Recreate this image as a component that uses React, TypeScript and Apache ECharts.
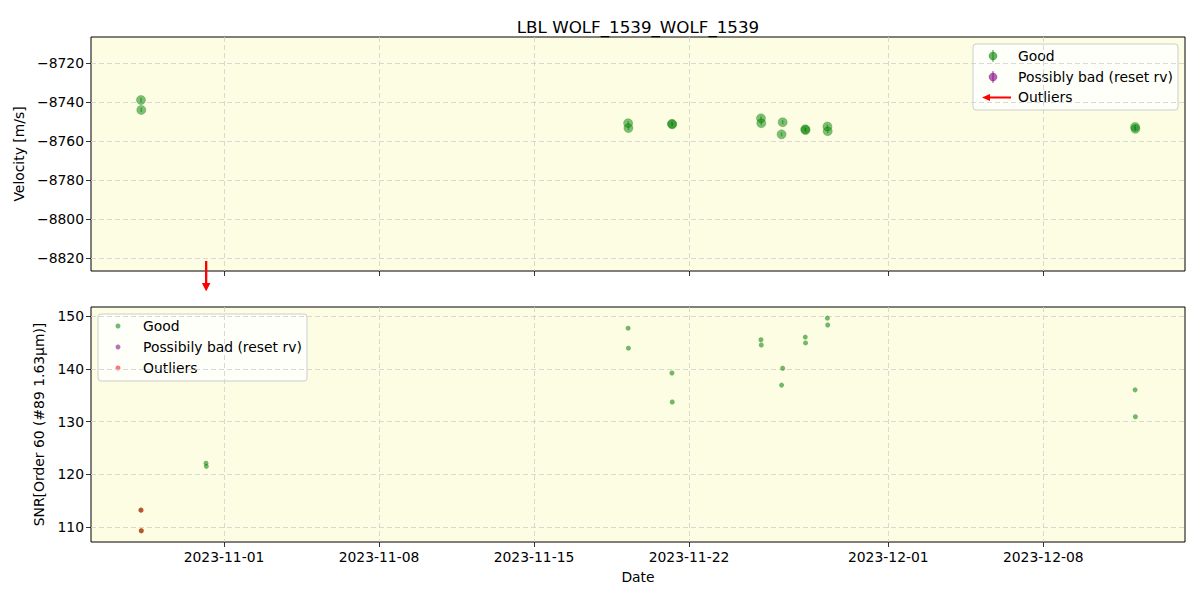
import React, { useEffect, useRef } from 'react';
import * as echarts from 'echarts';

// ---- data ----
const rvDates = [
  '2023-10-28T06:00', '2023-10-28T06:20',
  '2023-11-19T06:00', '2023-11-19T06:20',
  '2023-11-21T05:30', '2023-11-21T05:50',
  '2023-11-25T06:00', '2023-11-25T06:20',
  '2023-11-26T05:30', '2023-11-26T04:20',
  '2023-11-27T06:00', '2023-11-27T06:20',
  '2023-11-28T06:00', '2023-11-28T06:20',
  '2023-12-12T03:30', '2023-12-12T03:50',
];
const rvValues = [
  -8739.0, -8744.1,
  -8750.9, -8753.4,
  -8751.2, -8751.5,
  -8748.4, -8750.9,
  -8750.4, -8756.6,
  -8754.0, -8754.4,
  -8752.6, -8755.0,
  -8752.8, -8753.8,
];
const rvErrors = [
  1.1, 1.1, 1.0, 1.0, 0.9, 0.9, 1.0, 1.0,
  1.0, 1.0, 0.9, 0.9, 1.0, 1.0, 1.0, 1.0,
];
const rvOutlierDates = ['2023-10-31T04:30', '2023-10-31T04:50'];

const snrDates = [
  '2023-10-28T06:00', '2023-10-28T06:20',
  '2023-10-31T04:30', '2023-10-31T04:50',
  '2023-11-19T06:00', '2023-11-19T06:20',
  '2023-11-21T05:30', '2023-11-21T05:50',
  '2023-11-25T06:00', '2023-11-25T06:20',
  '2023-11-26T05:30', '2023-11-26T04:20',
  '2023-11-27T06:00', '2023-11-27T06:20',
  '2023-11-28T06:00', '2023-11-28T06:20',
  '2023-12-12T03:30', '2023-12-12T03:50',
];
const snrValues = [
  113.2, 109.3,
  122.1, 121.5,
  147.7, 143.9,
  139.2, 133.7,
  145.5, 144.5,
  140.1, 136.9,
  146.0, 144.9,
  149.6, 148.3,
  136.0, 130.9,
];
const snrOutlierDates = ['2023-10-28T06:00', '2023-10-28T06:20'];
const snrOutlierValues = [113.2, 109.3];

const xTickLabels = ['2023-11-01', '2023-11-08', '2023-11-15', '2023-11-22', '2023-12-01', '2023-12-08'];
const rvTicks = [-8820, -8800, -8780, -8760, -8740, -8720];
const snrTicks = [110, 120, 130, 140, 150];

const X_MIN = '2023-10-25T23:50';
const X_MAX = '2023-12-14T09:36';
const RV_MIN = -8826.7;
const RV_MAX = -8706.7;
const SNR_MIN = 107.16;
const SNR_MAX = 151.71;

const ts = (s: string) => Date.parse(s + ':00Z');

const FONT = 'DejaVu Sans';
const GREEN = '#008000';
const fmtDate = (v: number) => new Date(v).toISOString().slice(0, 10);
const fmtNum = (v: number) => (v < 0 ? '\u2212' + Math.abs(v) : String(v));

export default function App() {
  const ref = useRef<HTMLDivElement>(null);
  useEffect(() => {
    if (!ref.current) return;
    const chart = echarts.init(ref.current, undefined, { renderer: 'svg' });
    const xTicks = xTickLabels.map((d) => ts(d + 'T00:00'));
    const gridLine = { show: true, lineStyle: { color: '#cfcfcf', type: [5, 3] as any, width: 0.8 } };
    const xAxisBase = (gridIndex: number, showLabels: boolean) => ({
      type: 'value' as const,
      gridIndex,
      min: ts(X_MIN),
      max: ts(X_MAX),
      axisLine: { show: false },
      axisTick: { show: true, inside: false, length: 5, lineStyle: { color: '#000', width: 0.8 }, customValues: xTicks },
      axisLabel: {
        show: showLabels,
        customValues: xTicks,
        formatter: fmtDate,
        color: '#000',
        fontFamily: FONT,
        fontSize: 13.9,
        margin: 8,
      },
      splitLine: gridLine,
    });
    const yAxisBase = (gridIndex: number, min: number, max: number, ticks: number[], name: string, gap: number) => ({
      type: 'value' as const,
      gridIndex,
      min,
      max,
      name,
      nameLocation: 'middle' as const,
      nameGap: gap,
      nameTextStyle: { color: '#000', fontFamily: FONT, fontSize: 13.9 },
      axisLine: { show: false },
      axisTick: { show: true, inside: false, length: 5, lineStyle: { color: '#000', width: 0.8 }, customValues: ticks },
      axisLabel: { customValues: ticks, formatter: fmtNum, color: '#000', fontFamily: FONT, fontSize: 13.9, margin: 7 },
      splitLine: gridLine,
    });

    const rvData = rvDates.map((d, i) => [ts(d), rvValues[i], rvErrors[i]]);
    const snrData = snrDates.map((d, i) => [ts(d), snrValues[i]]);
    const snrOut = snrOutlierDates.map((d, i) => [ts(d), snrOutlierValues[i]]);
    const rvOut = rvOutlierDates.map((d) => [ts(d)]);

    const option: any = {
      animation: false,
      title: {
        text: 'LBL WOLF_1539_WOLF_1539',
        left: 633,
        top: 13,
        textAlign: 'center',
        textStyle: { fontFamily: FONT, fontSize: 16.7, fontWeight: 'normal', color: '#000' },
      },
      grid: [
        { left: 91, right: 15, top: 37, height: 234, show: true, backgroundColor: '#fdfde3', borderColor: '#000', borderWidth: 1 },
        { left: 91, right: 15, top: 307, height: 235, show: true, backgroundColor: '#fdfde3', borderColor: '#000', borderWidth: 1 },
      ],
      xAxis: [
        xAxisBase(0, false),
        {
          ...xAxisBase(1, true),
          name: 'Date',
          nameLocation: 'middle',
          nameGap: 28,
          nameTextStyle: { color: '#000', fontFamily: FONT, fontSize: 13.9 },
        },
      ],
      yAxis: [
        yAxisBase(0, RV_MIN, RV_MAX, rvTicks, 'Velocity [m/s]', 62),
        yAxisBase(1, SNR_MIN, SNR_MAX, snrTicks, 'SNR[Order 60 (#89 1.63μm)]', 45),
      ],
      series: [
        {
          name: 'Good errors',
          type: 'custom',
          xAxisIndex: 0,
          yAxisIndex: 0,
          data: rvData,
          renderItem: (params: any, api: any) => {
            const t = api.value(0), v = api.value(1), e = api.value(2);
            const a = api.coord([t, v - e]);
            const b = api.coord([t, v + e]);
            return {
              type: 'line',
              shape: { x1: a[0], y1: a[1], x2: b[0], y2: b[1] },
              style: { stroke: GREEN, lineWidth: 1.5, opacity: 0.5 },
            };
          },
        },
        {
          name: 'Good',
          type: 'scatter',
          xAxisIndex: 0,
          yAxisIndex: 0,
          data: rvData.map((d) => [d[0], d[1]]),
          symbol: 'circle',
          symbolSize: 9,
          itemStyle: { color: 'rgba(0,128,0,0.62)', borderColor: 'rgba(0,128,0,0.35)', borderWidth: 1 },
        },
        {
          name: 'Possibly bad (reset rv)',
          type: 'scatter',
          xAxisIndex: 0,
          yAxisIndex: 0,
          data: [],
          itemStyle: { color: 'purple' },
        },
        {
          name: 'Outliers',
          type: 'custom',
          xAxisIndex: 0,
          yAxisIndex: 0,
          clip: false,
          data: rvOut,
          renderItem: (params: any, api: any) => {
            const p = api.coord([api.value(0), RV_MIN]);
            const x = p[0], y = p[1];
            return {
              type: 'group',
              children: [
                { type: 'line', shape: { x1: x, y1: y - 10, x2: x, y2: y + 14 }, style: { stroke: 'red', lineWidth: 2 } },
                { type: 'polygon', shape: { points: [[x - 4, y + 12], [x + 4, y + 12], [x, y + 20]] }, style: { fill: 'red' } },
              ],
            };
          },
        },
        {
          name: 'Good',
          type: 'scatter',
          xAxisIndex: 1,
          yAxisIndex: 1,
          data: snrData,
          symbol: 'circle',
          symbolSize: 5,
          itemStyle: { color: GREEN, opacity: 0.55 },
        },
        {
          name: 'Possibily bad (reset rv)',
          type: 'scatter',
          xAxisIndex: 1,
          yAxisIndex: 1,
          data: [],
          itemStyle: { color: 'purple', opacity: 0.5 },
        },
        {
          name: 'Outliers',
          type: 'scatter',
          xAxisIndex: 1,
          yAxisIndex: 1,
          data: snrOut,
          symbol: 'circle',
          symbolSize: 5,
          itemStyle: { color: 'red', opacity: 0.55 },
        },
      ],
      graphic: [
        // top legend
        {
          type: 'group',
          children: [
            { type: 'rect', shape: { x: 973, y: 44, width: 205, height: 66, r: 3 }, style: { fill: 'rgba(255,255,255,0.8)', stroke: '#cccccc', lineWidth: 1 } },
            { type: 'line', shape: { x1: 993, y1: 50, x2: 993, y2: 62 }, style: { stroke: GREEN, lineWidth: 1.5, opacity: 0.5 } },
            { type: 'circle', shape: { cx: 993, cy: 56, r: 4 }, style: { fill: 'rgba(0,128,0,0.6)', stroke: 'rgba(0,128,0,0.35)', lineWidth: 1 } },
            { type: 'line', shape: { x1: 993, y1: 71, x2: 993, y2: 83 }, style: { stroke: 'purple', lineWidth: 1.5, opacity: 0.5 } },
            { type: 'circle', shape: { cx: 993, cy: 77, r: 4 }, style: { fill: 'rgba(128,0,128,0.6)', stroke: 'rgba(128,0,128,0.35)', lineWidth: 1 } },
            { type: 'line', shape: { x1: 1011, y1: 97.5, x2: 989, y2: 97.5 }, style: { stroke: 'red', lineWidth: 2 } },
            { type: 'polygon', shape: { points: [[982, 97.5], [990, 94], [990, 101]] }, style: { fill: 'red' } },
            { type: 'text', x: 1018, y: 56, style: { text: 'Good', fontFamily: FONT, fontSize: 13.9, fill: '#000', verticalAlign: 'middle' } },
            { type: 'text', x: 1018, y: 77, style: { text: 'Possibly bad (reset rv)', fontFamily: FONT, fontSize: 13.9, fill: '#000', verticalAlign: 'middle' } },
            { type: 'text', x: 1018, y: 97, style: { text: 'Outliers', fontFamily: FONT, fontSize: 13.9, fill: '#000', verticalAlign: 'middle' } },
          ],
        },
        // bottom legend
        {
          type: 'group',
          children: [
            { type: 'rect', shape: { x: 98, y: 314, width: 209, height: 67, r: 3 }, style: { fill: 'rgba(255,255,255,0.8)', stroke: '#cccccc', lineWidth: 1 } },
            { type: 'circle', shape: { cx: 118, cy: 326, r: 2.5 }, style: { fill: 'rgba(0,128,0,0.55)' } },
            { type: 'circle', shape: { cx: 118, cy: 347, r: 2.5 }, style: { fill: 'rgba(128,0,128,0.55)' } },
            { type: 'circle', shape: { cx: 118, cy: 368, r: 2.5 }, style: { fill: 'rgba(255,0,0,0.55)' } },
            { type: 'text', x: 143, y: 326, style: { text: 'Good', fontFamily: FONT, fontSize: 13.9, fill: '#000', verticalAlign: 'middle' } },
            { type: 'text', x: 143, y: 347, style: { text: 'Possibily bad (reset rv)', fontFamily: FONT, fontSize: 13.9, fill: '#000', verticalAlign: 'middle' } },
            { type: 'text', x: 143, y: 368, style: { text: 'Outliers', fontFamily: FONT, fontSize: 13.9, fill: '#000', verticalAlign: 'middle' } },
          ],
        },
      ],
    };
    chart.setOption(option);
    return () => chart.dispose();
  }, []);
  return <div ref={ref} style={{ width: 1200, height: 600, position: 'absolute', left: 0, top: 0 }} />;
}
